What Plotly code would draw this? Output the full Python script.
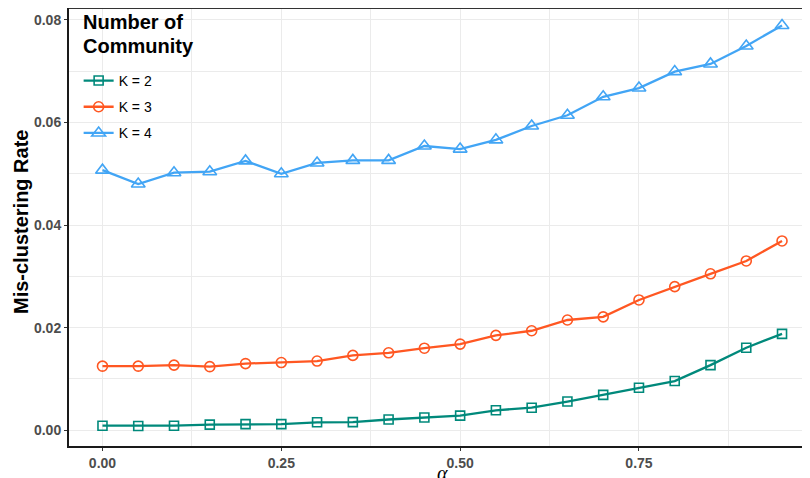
import plotly.graph_objects as go

alpha = [0.00, 0.05, 0.10, 0.15, 0.20, 0.25, 0.30, 0.35, 0.40, 0.45,
         0.50, 0.55, 0.60, 0.65, 0.70, 0.75, 0.80, 0.85, 0.90, 0.95]
k2 = [0.0009, 0.00084, 0.0009, 0.0011, 0.0012, 0.0012, 0.00156, 0.0016, 0.0021, 0.0025,
      0.00285, 0.0039, 0.0044, 0.0056, 0.0069, 0.0083, 0.0096, 0.0127, 0.0161, 0.0188]
k3 = [0.0125, 0.0125, 0.0127, 0.0124, 0.0130, 0.0132, 0.0135, 0.0146, 0.0151, 0.0160,
      0.0168, 0.0185, 0.0194, 0.0215, 0.0221, 0.0254, 0.0280, 0.0305, 0.0330, 0.0369]
k4 = [0.0507, 0.0480, 0.0502, 0.0504, 0.0525, 0.0500, 0.0521, 0.0526, 0.0526, 0.0554,
      0.0548, 0.0566, 0.0593, 0.0614, 0.0650, 0.0667, 0.0699, 0.0714, 0.0749, 0.0789]
series_names = ["K = 2", "K = 3", "K = 4"]
legend_title_lines = ["Number of", "Community"]
x_ticks = [0.00, 0.25, 0.50, 0.75]
x_tick_labels = ["0.00", "0.25", "0.50", "0.75"]
y_ticks = [0.00, 0.02, 0.04, 0.06, 0.08]
y_tick_labels = ["0.00", "0.02", "0.04", "0.06", "0.08"]

colors = ["#00897B", "#FF5722", "#42A5F5"]
symbols = ["square-open", "circle-open", "triangle-up-open"]
msizes = [9, 10, 12]

fig = go.Figure()
for i, (name, vals) in enumerate(zip(series_names, [k2, k3, k4])):
    fig.add_trace(go.Scatter(
        x=alpha, y=vals, name=name, mode="lines+markers",
        legendgroup=name,
        line=dict(color=colors[i], width=2.3),
        marker=dict(symbol=symbols[i], size=msizes[i], color=colors[i],
                    line=dict(width=1.6, color=colors[i])),
    ))

grid = "#EBEBEB"
tickfont = dict(size=14, color="#4D4D4D", family="Liberation Sans, Arial", weight="bold")
fig.update_layout(
    width=802, height=470,
    margin=dict(l=60.5, r=0, t=0, b=32, autoexpand=False),
    paper_bgcolor="white", plot_bgcolor="white",
    font=dict(family="Liberation Sans, Arial, sans-serif"),
    showlegend=True,
    legend=dict(
        x=0.013, y=0.87, xanchor="left", yanchor="top",
        bgcolor="rgba(255,255,255,0)",
        font=dict(size=14, color="black"),
        tracegroupgap=5,
        borderwidth=0,
    ),
    xaxis=dict(
        range=[-0.0468, 0.9891],
        tickvals=x_ticks, ticktext=x_tick_labels,
        showgrid=True, gridcolor=grid, gridwidth=1,
        minor=dict(dtick=0.125, tick0=0, showgrid=True, gridcolor=grid, gridwidth=1),
        zeroline=False,
        showline=True, linecolor="#1a1a1a", linewidth=2,
        ticks="outside", ticklen=3, tickcolor="#333333",
        tickfont=tickfont,
    ),
    yaxis=dict(
        range=[-0.00306, 0.0823],
        tickvals=y_ticks, ticktext=y_tick_labels,
        showgrid=True, gridcolor=grid, gridwidth=1,
        minor=dict(dtick=0.01, tick0=0, showgrid=True, gridcolor=grid, gridwidth=1),
        zeroline=False,
        showline=True, linecolor="#1a1a1a", linewidth=2,
        ticks="outside", ticklen=3, tickcolor="#333333",
        tickfont=tickfont,
    ),
)

# white legend background panel covering the gridlines
fig.add_shape(type="rect", xref="paper", yref="paper", x0=0, x1=0.18, y0=0.669, y1=1,
              fillcolor="white", line=dict(width=0), layer="between")
# top panel border
fig.add_shape(type="line", xref="paper", yref="paper", x0=0, x1=1, y0=1, y1=1,
              line=dict(color="#333333", width=2))

for txt, yy in zip(legend_title_lines, [0.968, 0.913]):
    fig.add_annotation(text="<b>" + txt + "</b>", xref="paper", yref="paper",
                       x=0.0157, y=yy, xanchor="left", yanchor="middle",
                       showarrow=False, font=dict(size=20, color="black"))

fig.add_annotation(text="<b>Mis-clustering Rate</b>", xref="paper", yref="paper",
                   x=-0.065, y=0.511, xanchor="center", yanchor="middle",
                   textangle=-90, showarrow=False,
                   font=dict(size=20, color="black"))
fig.add_annotation(text="<i>α</i>", xref="paper", yref="paper",
                   x=0.504, y=0, xanchor="center", yanchor="top", yshift=-14,
                   showarrow=False,
                   font=dict(size=20, color="black", family="Liberation Serif, serif"))

fig.write_html("out.html")
